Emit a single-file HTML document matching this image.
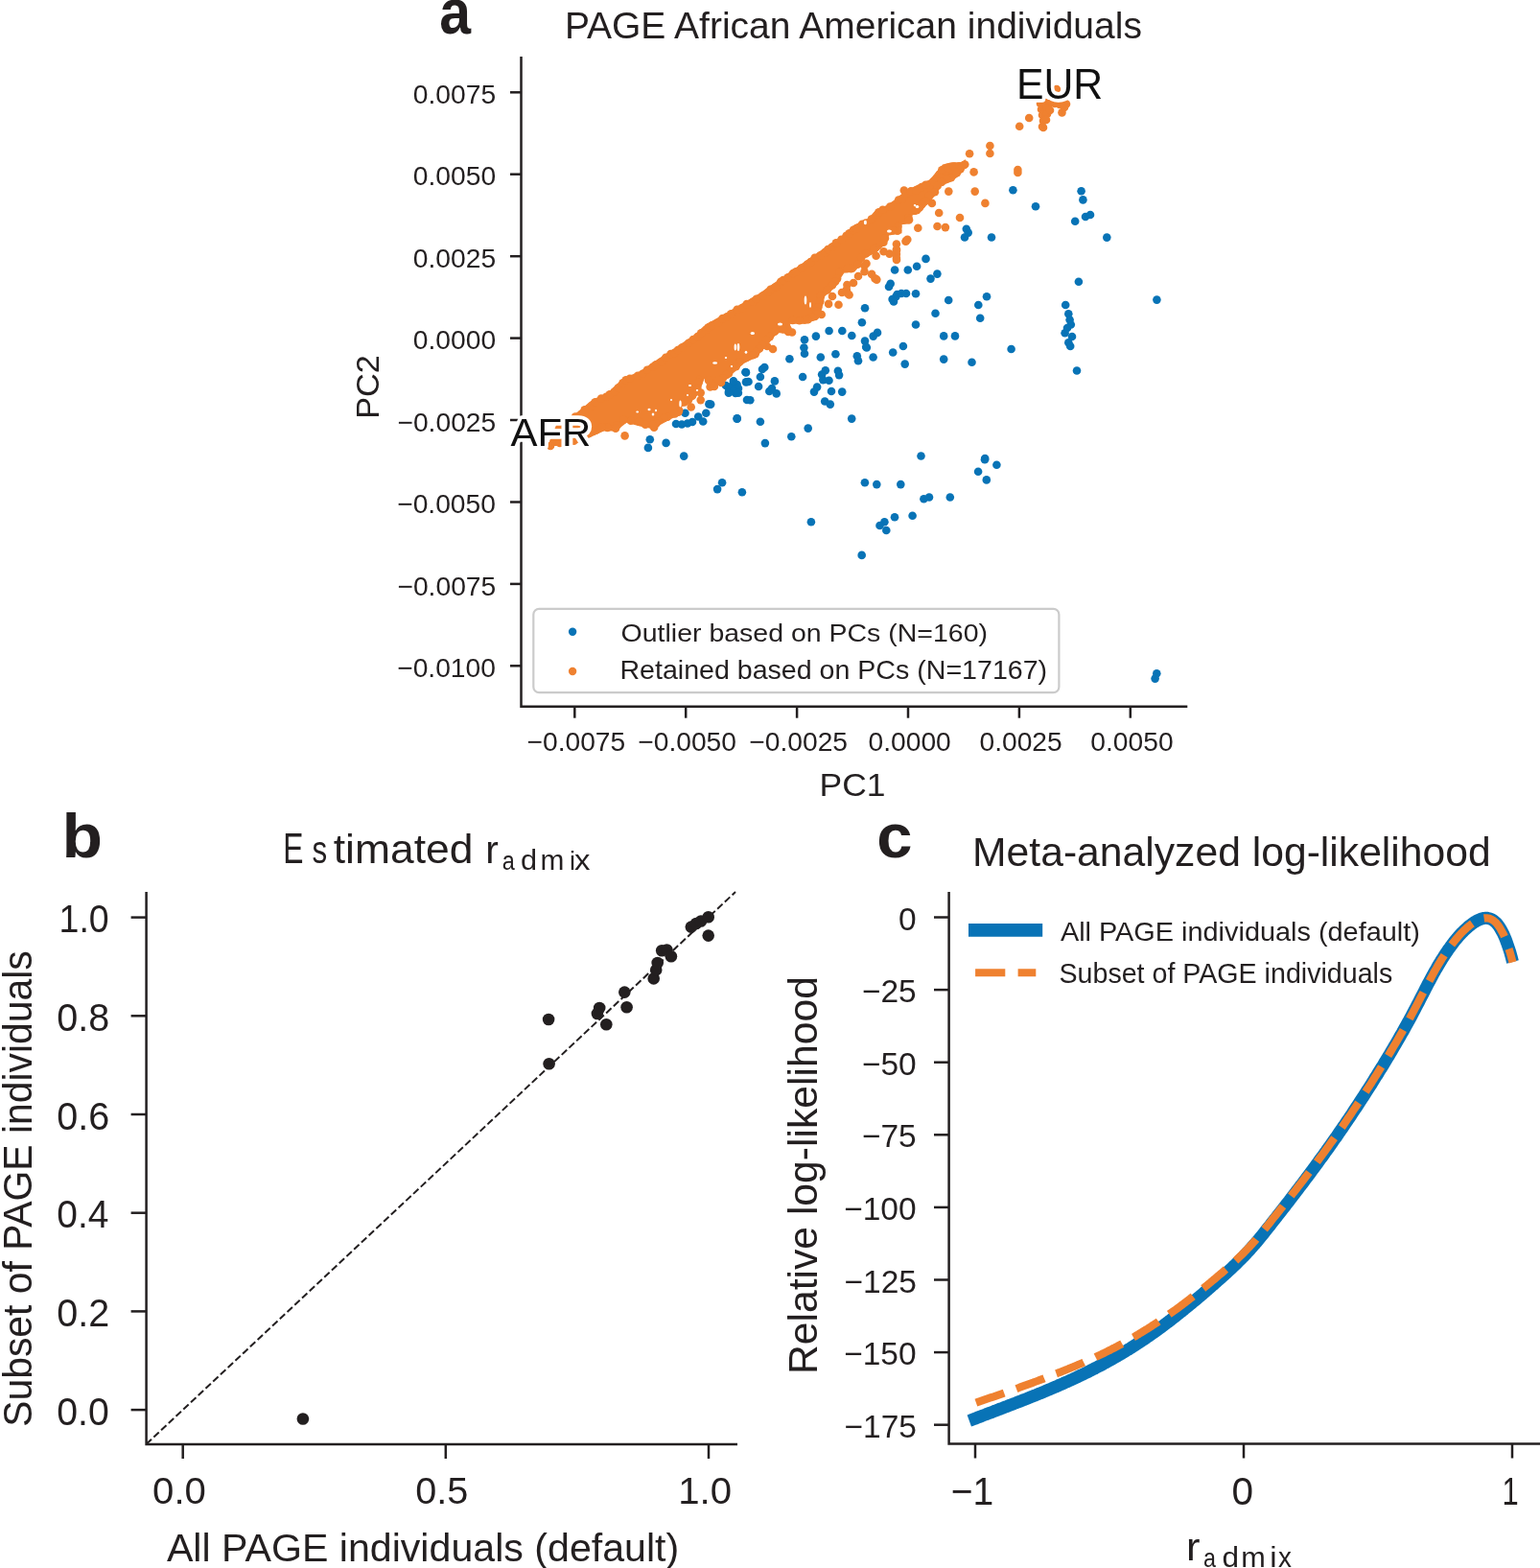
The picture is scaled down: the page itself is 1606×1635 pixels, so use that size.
<!DOCTYPE html>
<html><head><meta charset="utf-8"><title>PAGE African American individuals</title>
<style>html,body{margin:0;padding:0;background:#fff;}svg{display:block;}</style></head>
<body><svg width="1606" height="1635" viewBox="0 0 1606 1635">
<rect width="1606" height="1635" fill="#fff"/>
<g stroke="#231f20" stroke-width="2.5" fill="none">
<path d="M543.5 59V738M542.3 736.8H1238.3"/>
<path d="M532 96.3H543.5"/>
<path d="M532 181.7H543.5"/>
<path d="M532 267.2H543.5"/>
<path d="M532 352.6H543.5"/>
<path d="M532 438.0H543.5"/>
<path d="M532 523.5H543.5"/>
<path d="M532 608.9H543.5"/>
<path d="M532 694.3H543.5"/>
<path d="M599.3 736.8V748.7"/>
<path d="M715.2 736.8V748.7"/>
<path d="M831.1 736.8V748.7"/>
<path d="M947.0 736.8V748.7"/>
<path d="M1062.9 736.8V748.7"/>
<path d="M1178.8 736.8V748.7"/>
</g>
<g fill="#0873b6"><circle cx="705" cy="442" r="4.3"/><circle cx="711" cy="442.5" r="4.3"/><circle cx="717" cy="441.5" r="4.3"/><circle cx="722" cy="440" r="4.3"/><circle cx="714.5" cy="430.8" r="4.3"/><circle cx="728.2" cy="434.5" r="4.3"/><circle cx="733.2" cy="439.5" r="4.3"/><circle cx="736.3" cy="430.8" r="4.3"/><circle cx="739.4" cy="421.4" r="4.3"/><circle cx="768.7" cy="436.4" r="4.3"/><circle cx="677.8" cy="458.2" r="4.3"/><circle cx="675.9" cy="466.9" r="4.3"/><circle cx="694.6" cy="461.9" r="4.3"/><circle cx="713.2" cy="475.6" r="4.3"/><circle cx="757" cy="402" r="4.3"/><circle cx="765" cy="400" r="4.3"/><circle cx="770" cy="405" r="4.3"/><circle cx="760" cy="408" r="4.3"/><circle cx="767" cy="410" r="4.3"/><circle cx="778" cy="388.4" r="4.3"/><circle cx="778" cy="398.4" r="4.3"/><circle cx="779" cy="417" r="4.3"/><circle cx="838.4" cy="362.5" r="4.3"/><circle cx="839" cy="368.7" r="4.3"/><circle cx="823.4" cy="374.3" r="4.3"/><circle cx="855.8" cy="372.5" r="4.3"/><circle cx="871.4" cy="369.3" r="4.3"/><circle cx="893.8" cy="371.2" r="4.3"/><circle cx="895" cy="376.2" r="4.3"/><circle cx="903.8" cy="362.5" r="4.3"/><circle cx="910.6" cy="372.5" r="4.3"/><circle cx="931.2" cy="367.5" r="4.3"/><circle cx="797.3" cy="383" r="4.3"/><circle cx="795" cy="385" r="4.3"/><circle cx="777.4" cy="388" r="4.3"/><circle cx="792.9" cy="393" r="4.3"/><circle cx="780.5" cy="398" r="4.3"/><circle cx="791.1" cy="403" r="4.3"/><circle cx="807.9" cy="397.4" r="4.3"/><circle cx="802.3" cy="408" r="4.3"/><circle cx="809.7" cy="410.4" r="4.3"/><circle cx="805" cy="405" r="4.3"/><circle cx="759.9" cy="403.6" r="4.3"/><circle cx="768.6" cy="401.1" r="4.3"/><circle cx="764.9" cy="407.3" r="4.3"/><circle cx="759.9" cy="409.8" r="4.3"/><circle cx="769.9" cy="409.8" r="4.3"/><circle cx="764.9" cy="397.4" r="4.3"/><circle cx="782.3" cy="417.3" r="4.3"/><circle cx="741.2" cy="421.6" r="4.3"/><circle cx="837.1" cy="393" r="4.3"/><circle cx="860.8" cy="386.2" r="4.3"/><circle cx="857.1" cy="390.5" r="4.3"/><circle cx="858.3" cy="396.1" r="4.3"/><circle cx="864.5" cy="396.7" r="4.3"/><circle cx="873.9" cy="386.8" r="4.3"/><circle cx="875.1" cy="391.1" r="4.3"/><circle cx="852.1" cy="403.6" r="4.3"/><circle cx="849" cy="408.6" r="4.3"/><circle cx="867" cy="408" r="4.3"/><circle cx="878.2" cy="408.6" r="4.3"/><circle cx="860.2" cy="418.5" r="4.3"/><circle cx="865.8" cy="421.6" r="4.3"/><circle cx="768.6" cy="436.6" r="4.3"/><circle cx="792.9" cy="439.7" r="4.3"/><circle cx="888.2" cy="436.6" r="4.3"/><circle cx="842.7" cy="446.6" r="4.3"/><circle cx="825.3" cy="455.3" r="4.3"/><circle cx="797.9" cy="462.1" r="4.3"/><circle cx="753.1" cy="503.2" r="4.3"/><circle cx="748.1" cy="510.1" r="4.3"/><circle cx="773.9" cy="513.2" r="4.3"/><circle cx="901.9" cy="503.2" r="4.3"/><circle cx="914.3" cy="505.1" r="4.3"/><circle cx="939.3" cy="505.1" r="4.3"/><circle cx="845.9" cy="544.3" r="4.3"/><circle cx="933" cy="539.3" r="4.3"/><circle cx="922.4" cy="544.3" r="4.3"/><circle cx="917.5" cy="548" r="4.3"/><circle cx="924.3" cy="553" r="4.3"/><circle cx="933.1" cy="281.5" r="4.3"/><circle cx="946.8" cy="281.5" r="4.3"/><circle cx="956.1" cy="277.8" r="4.3"/><circle cx="928.7" cy="295.8" r="4.3"/><circle cx="927" cy="299" r="4.3"/><circle cx="934.3" cy="309.5" r="4.3"/><circle cx="930.6" cy="312" r="4.3"/><circle cx="935.6" cy="307" r="4.3"/><circle cx="932" cy="314.5" r="4.3"/><circle cx="902" cy="321.3" r="4.3"/><circle cx="898.9" cy="336.3" r="4.3"/><circle cx="864.6" cy="345" r="4.3"/><circle cx="878.3" cy="345" r="4.3"/><circle cx="888.3" cy="350" r="4.3"/><circle cx="850.9" cy="350.6" r="4.3"/><circle cx="839" cy="354.3" r="4.3"/><circle cx="915" cy="346.9" r="4.3"/><circle cx="910.7" cy="350.6" r="4.3"/><circle cx="902" cy="355.6" r="4.3"/><circle cx="903.2" cy="361.8" r="4.3"/><circle cx="977.4" cy="285.6" r="4.3"/><circle cx="970.5" cy="290.6" r="4.3"/><circle cx="940" cy="306" r="4.3"/><circle cx="945" cy="306" r="4.3"/><circle cx="955" cy="306.2" r="4.3"/><circle cx="989.2" cy="313" r="4.3"/><circle cx="1029" cy="309.3" r="4.3"/><circle cx="1020.3" cy="318" r="4.3"/><circle cx="975.5" cy="326.7" r="4.3"/><circle cx="1022.2" cy="331.7" r="4.3"/><circle cx="955" cy="338.5" r="4.3"/><circle cx="984.2" cy="350.4" r="4.3"/><circle cx="996" cy="350.4" r="4.3"/><circle cx="941.9" cy="361" r="4.3"/><circle cx="1054.6" cy="364" r="4.3"/><circle cx="984.2" cy="374.6" r="4.3"/><circle cx="1013.5" cy="377.8" r="4.3"/><circle cx="943.7" cy="379.6" r="4.3"/><circle cx="1124.9" cy="293.7" r="4.3"/><circle cx="1111.2" cy="318" r="4.3"/><circle cx="1114.3" cy="327.3" r="4.3"/><circle cx="1115.6" cy="333.5" r="4.3"/><circle cx="1116.8" cy="338.5" r="4.3"/><circle cx="1110.6" cy="347.2" r="4.3"/><circle cx="1118" cy="351" r="4.3"/><circle cx="1114.3" cy="357.2" r="4.3"/><circle cx="1116.2" cy="361" r="4.3"/><circle cx="1113" cy="342" r="4.3"/><circle cx="1123" cy="386.5" r="4.3"/><circle cx="960.5" cy="475.5" r="4.3"/><circle cx="1027.2" cy="478" r="4.3"/><circle cx="1056.4" cy="198.3" r="4.3"/><circle cx="1080" cy="215.2" r="4.3"/><circle cx="1121.2" cy="230.7" r="4.3"/><circle cx="1127.6" cy="199.3" r="4.3"/><circle cx="1129.4" cy="208.4" r="4.3"/><circle cx="1132" cy="226" r="4.3"/><circle cx="1137" cy="224" r="4.3"/><circle cx="1154.3" cy="247.6" r="4.3"/><circle cx="1007.8" cy="238.8" r="4.3"/><circle cx="1009.7" cy="242.6" r="4.3"/><circle cx="1006" cy="247.5" r="4.3"/><circle cx="1034" cy="247.5" r="4.3"/><circle cx="965.5" cy="269.9" r="4.3"/><circle cx="963.4" cy="520.3" r="4.3"/><circle cx="969" cy="518.5" r="4.3"/><circle cx="990.8" cy="518.5" r="4.3"/><circle cx="1027" cy="479.2" r="4.3"/><circle cx="1039.4" cy="484.8" r="4.3"/><circle cx="1020.1" cy="491.7" r="4.3"/><circle cx="1028.8" cy="500.4" r="4.3"/><circle cx="951.6" cy="537.8" r="4.3"/><circle cx="898.7" cy="578.9" r="4.3"/><circle cx="1206.4" cy="312.6" r="4.3"/><circle cx="1206.3" cy="702.3" r="4.3"/><circle cx="1204.6" cy="707.6" r="4.3"/></g><path d="M574 452 L580 445 L590 438 L602.4 429.5 L617.4 417.1 L633.5 409.6 L649.7 394.6 L667.2 387.2 L685.9 374.5 L704.5 362.3 L723.2 349.8 L735.7 338.6 L754.3 328 L766.8 320.5 L791.8 305.9 L823.6 283.6 L855.4 261.4 L880 244.4 L891.2 234.3 L905.8 227.6 L913.6 218.6 L924.8 214.1 L932.7 208.5 L942.8 200 L956.2 192.9 L969.7 187.2 L975.3 180.5 L983.1 171.6 L992.1 169.3 L1003.3 169.3 L1006.7 166 L1007.8 172.7 L1001 182.8 L992.1 189.5 L980.9 194 L977.5 201.8 L969.7 209.7 L958.5 223.1 L951.7 224.2 L949.5 233.2 L940.5 234.3 L940.5 243.3 L927.1 245.5 L923.7 254.5 L913.6 263.5 L902.4 269.1 L896.8 276.9 L891.2 283.6 L880 284.8 L871.3 299.5 L860.2 309 L855.4 329.7 L839.5 337.7 L823.6 337.7 L823.6 347.2 L810.9 347.2 L799.8 360 L788.6 372.7 L775.9 379 L760 393.4 L751.9 399.6 L741.9 405.8 L734.4 395 L729.4 409.6 L720.7 419.6 L710.8 424.5 L710.8 432 L699.6 437 L685.9 444.5 L679.6 447 L667.2 444.5 L653.5 440.7 L642.3 449.4 L629.8 449.4 L616.1 455.7 L605 461 L590 465 L578 465Z" fill="#ef8130"/><g fill="#ef8130"><circle cx="945.0" cy="251.1" r="4.3"/><circle cx="934.9" cy="254.5" r="4.3"/><circle cx="934.9" cy="260.0" r="4.3"/><circle cx="934.9" cy="265.0" r="4.3"/><circle cx="934.9" cy="269.1" r="4.3"/><circle cx="921.5" cy="262.3" r="4.3"/><circle cx="913.6" cy="266.8" r="4.3"/><circle cx="903.5" cy="274.7" r="4.3"/><circle cx="912.5" cy="290.4" r="4.3"/><circle cx="909.1" cy="285.9" r="4.3"/><circle cx="883.4" cy="297.1" r="4.3"/><circle cx="979.2" cy="222.0" r="4.3"/><circle cx="1001.0" cy="227.0" r="4.3"/><circle cx="977.5" cy="236.0" r="4.3"/><circle cx="985.9" cy="237.1" r="4.3"/><circle cx="989.3" cy="199.6" r="4.3"/><circle cx="1015.6" cy="179.4" r="4.3"/><circle cx="1016.7" cy="199.6" r="4.3"/><circle cx="1027.4" cy="211.9" r="4.3"/><circle cx="1032.4" cy="152.0" r="4.3"/><circle cx="1032.4" cy="160.0" r="4.3"/><circle cx="1011.1" cy="160.3" r="4.3"/><circle cx="942.8" cy="198.5" r="4.3"/><circle cx="957.3" cy="237.7" r="4.3"/><circle cx="971.9" cy="211.9" r="4.3"/><circle cx="874.5" cy="317.8" r="4.3"/><circle cx="885.6" cy="307.5" r="4.3"/><circle cx="914.3" cy="291.6" r="4.3"/><circle cx="935.0" cy="270.9" r="4.3"/><circle cx="944.5" cy="251.8" r="4.3"/><circle cx="800.0" cy="361.0" r="4.3"/><circle cx="806.0" cy="364.0" r="4.3"/><circle cx="822.0" cy="346.0" r="4.3"/><circle cx="826.0" cy="346.5" r="4.3"/><circle cx="651.6" cy="454.4" r="4.3"/><circle cx="740.6" cy="403.4" r="4.3"/><circle cx="750.6" cy="397.1" r="4.3"/><circle cx="730.7" cy="409.6" r="4.3"/><circle cx="730.7" cy="417.1" r="4.3"/><circle cx="720.7" cy="424.5" r="4.3"/><circle cx="682.1" cy="445.7" r="4.3"/><circle cx="577.3" cy="460.5" r="4.3"/><circle cx="574.0" cy="465.0" r="4.3"/><circle cx="882.8" cy="302.0" r="4.3"/><circle cx="884.0" cy="306.0" r="4.3"/><circle cx="901.5" cy="283.3" r="4.3"/><circle cx="901.5" cy="277.0" r="4.3"/><circle cx="927.6" cy="264.6" r="4.3"/><circle cx="935.0" cy="260.9" r="4.3"/><circle cx="946.3" cy="249.7" r="4.3"/><circle cx="864.1" cy="316.9" r="4.3"/><circle cx="849.2" cy="320.6" r="4.3"/><circle cx="856.7" cy="328.0" r="4.3"/><circle cx="819.3" cy="343.0" r="4.3"/><circle cx="787.6" cy="369.2" r="4.3"/><circle cx="752.0" cy="399.0" r="4.3"/><circle cx="868.0" cy="309.0" r="4.3"/><circle cx="890.0" cy="295.0" r="4.3"/><circle cx="895.0" cy="288.0" r="4.3"/><circle cx="878.0" cy="305.0" r="4.3"/><circle cx="850.0" cy="330.0" r="4.3"/><circle cx="843.0" cy="333.0" r="4.3"/><circle cx="1061.4" cy="177.0" r="4.3"/><circle cx="1061.4" cy="180.0" r="4.3"/><circle cx="1063.2" cy="131.7" r="4.3"/><circle cx="1073.2" cy="123.0" r="4.3"/><circle cx="1085.0" cy="108.0" r="4.3"/><circle cx="1090.0" cy="107.0" r="4.3"/><circle cx="1095.0" cy="108.0" r="4.3"/><circle cx="1100.0" cy="108.0" r="4.3"/><circle cx="1105.0" cy="109.0" r="4.3"/><circle cx="1110.0" cy="109.0" r="4.3"/><circle cx="1112.0" cy="108.5" r="4.3"/><circle cx="1086.0" cy="114.0" r="4.3"/><circle cx="1087.0" cy="120.0" r="4.3"/><circle cx="1088.0" cy="126.0" r="4.3"/><circle cx="1087.0" cy="132.0" r="4.3"/><circle cx="1088.0" cy="133.0" r="4.3"/><circle cx="1092.0" cy="113.0" r="4.3"/><circle cx="1092.0" cy="119.0" r="4.3"/><circle cx="1091.0" cy="125.0" r="4.3"/><circle cx="1095.0" cy="115.0" r="4.3"/><circle cx="1107.5" cy="117.4" r="4.3"/><circle cx="1110.0" cy="112.0" r="4.3"/><circle cx="1101.9" cy="93.0" r="4.3"/><circle cx="577.4" cy="452.5" r="4.3"/><circle cx="583.5" cy="445.9" r="4.3"/><circle cx="588.5" cy="443.1" r="4.3"/><circle cx="592.2" cy="440.9" r="4.3"/><circle cx="596.2" cy="438.0" r="4.3"/><circle cx="600.0" cy="434.5" r="4.3"/><circle cx="606.4" cy="431.7" r="4.3"/><circle cx="609.7" cy="427.4" r="4.3"/><circle cx="617.1" cy="423.1" r="4.3"/><circle cx="620.7" cy="419.3" r="4.3"/><circle cx="627.0" cy="415.6" r="4.3"/><circle cx="632.2" cy="413.7" r="4.3"/><circle cx="635.8" cy="411.4" r="4.3"/><circle cx="641.2" cy="408.3" r="4.3"/><circle cx="644.6" cy="404.5" r="4.3"/><circle cx="649.5" cy="399.4" r="4.3"/><circle cx="652.7" cy="396.3" r="4.3"/><circle cx="656.9" cy="394.8" r="4.3"/><circle cx="665.1" cy="391.8" r="4.3"/><circle cx="670.2" cy="389.7" r="4.3"/><circle cx="674.9" cy="385.8" r="4.3"/><circle cx="681.0" cy="382.6" r="4.3"/><circle cx="684.0" cy="380.3" r="4.3"/><circle cx="689.8" cy="377.2" r="4.3"/><circle cx="694.3" cy="372.8" r="4.3"/><circle cx="699.5" cy="369.0" r="4.3"/><circle cx="703.3" cy="368.0" r="4.3"/><circle cx="706.9" cy="365.0" r="4.3"/><circle cx="711.5" cy="362.4" r="4.3"/><circle cx="718.1" cy="357.7" r="4.3"/><circle cx="722.8" cy="354.0" r="4.3"/><circle cx="727.5" cy="351.1" r="4.3"/><circle cx="731.2" cy="347.4" r="4.3"/><circle cx="736.6" cy="343.8" r="4.3"/><circle cx="739.0" cy="341.3" r="4.3"/><circle cx="742.5" cy="339.3" r="4.3"/><circle cx="749.1" cy="336.3" r="4.3"/><circle cx="753.5" cy="332.1" r="4.3"/><circle cx="757.8" cy="330.5" r="4.3"/><circle cx="762.4" cy="327.2" r="4.3"/><circle cx="768.7" cy="322.7" r="4.3"/><circle cx="774.1" cy="321.0" r="4.3"/><circle cx="778.7" cy="317.1" r="4.3"/><circle cx="785.2" cy="314.8" r="4.3"/><circle cx="788.8" cy="311.7" r="4.3"/><circle cx="795.8" cy="308.4" r="4.3"/><circle cx="801.1" cy="304.7" r="4.3"/><circle cx="803.6" cy="301.8" r="4.3"/><circle cx="808.9" cy="299.2" r="4.3"/><circle cx="814.2" cy="293.7" r="4.3"/><circle cx="816.8" cy="292.1" r="4.3"/><circle cx="821.7" cy="289.3" r="4.3"/><circle cx="827.0" cy="285.0" r="4.3"/><circle cx="830.1" cy="283.2" r="4.3"/><circle cx="835.8" cy="279.6" r="4.3"/><circle cx="842.1" cy="275.5" r="4.3"/><circle cx="845.4" cy="273.1" r="4.3"/><circle cx="849.7" cy="268.7" r="4.3"/><circle cx="855.7" cy="266.3" r="4.3"/><circle cx="860.4" cy="263.1" r="4.3"/><circle cx="863.4" cy="260.0" r="4.3"/><circle cx="867.7" cy="257.6" r="4.3"/><circle cx="871.9" cy="253.3" r="4.3"/><circle cx="877.4" cy="249.8" r="4.3"/><circle cx="882.6" cy="245.7" r="4.3"/><circle cx="885.7" cy="243.2" r="4.3"/><circle cx="889.9" cy="239.9" r="4.3"/><circle cx="893.1" cy="238.2" r="4.3"/><circle cx="899.1" cy="233.9" r="4.3"/><circle cx="903.0" cy="232.5" r="4.3"/><circle cx="908.8" cy="228.5" r="4.3"/><circle cx="915.2" cy="223.8" r="4.3"/><circle cx="916.5" cy="221.3" r="4.3"/><circle cx="920.5" cy="218.8" r="4.3"/><circle cx="928.2" cy="215.5" r="4.3"/><circle cx="937.1" cy="208.6" r="4.3"/><circle cx="940.7" cy="207.6" r="4.3"/><circle cx="945.6" cy="201.8" r="4.3"/><circle cx="950.0" cy="199.2" r="4.3"/><circle cx="955.3" cy="198.5" r="4.3"/><circle cx="961.2" cy="195.1" r="4.3"/><circle cx="965.3" cy="192.7" r="4.3"/><circle cx="973.4" cy="189.2" r="4.3"/><circle cx="979.7" cy="181.8" r="4.3"/><circle cx="982.3" cy="177.2" r="4.3"/><circle cx="988.6" cy="174.9" r="4.3"/><circle cx="995.0" cy="173.5" r="4.3"/><circle cx="1000.4" cy="173.4" r="4.3"/><circle cx="1006.3" cy="171.5" r="4.3"/><circle cx="1004.9" cy="172.3" r="4.3"/><circle cx="1001.7" cy="176.1" r="4.3"/><circle cx="997.9" cy="180.1" r="4.3"/><circle cx="991.9" cy="185.3" r="4.3"/><circle cx="987.2" cy="186.5" r="4.3"/><circle cx="982.0" cy="190.0" r="4.3"/><circle cx="977.7" cy="193.8" r="4.3"/><circle cx="974.9" cy="200.2" r="4.3"/><circle cx="969.0" cy="204.1" r="4.3"/><circle cx="965.1" cy="209.7" r="4.3"/><circle cx="961.3" cy="213.2" r="4.3"/><circle cx="959.0" cy="216.3" r="4.3"/><circle cx="954.1" cy="219.6" r="4.3"/><circle cx="947.3" cy="227.4" r="4.3"/><circle cx="948.0" cy="229.2" r="4.3"/><circle cx="936.3" cy="236.1" r="4.3"/><circle cx="936.0" cy="240.6" r="4.3"/><circle cx="931.5" cy="240.2" r="4.3"/><circle cx="922.9" cy="248.4" r="4.3"/><circle cx="921.4" cy="252.7" r="4.3"/><circle cx="913.1" cy="258.3" r="4.3"/><circle cx="911.2" cy="259.9" r="4.3"/><circle cx="903.0" cy="264.4" r="4.3"/><circle cx="898.2" cy="268.6" r="4.3"/><circle cx="894.3" cy="275.7" r="4.3"/><circle cx="887.5" cy="280.1" r="4.3"/><circle cx="883.4" cy="279.9" r="4.3"/><circle cx="875.5" cy="283.9" r="4.3"/><circle cx="873.1" cy="290.6" r="4.3"/><circle cx="871.0" cy="293.7" r="4.3"/><circle cx="868.0" cy="297.3" r="4.3"/><circle cx="862.7" cy="302.4" r="4.3"/><circle cx="855.8" cy="308.4" r="4.3"/><circle cx="855.3" cy="314.5" r="4.3"/><circle cx="853.1" cy="320.2" r="4.3"/><circle cx="852.0" cy="324.8" r="4.3"/><circle cx="852.2" cy="327.2" r="4.3"/><circle cx="847.2" cy="330.8" r="4.3"/><circle cx="842.1" cy="333.1" r="4.3"/><circle cx="839.5" cy="333.5" r="4.3"/><circle cx="833.7" cy="334.2" r="4.3"/><circle cx="826.6" cy="334.0" r="4.3"/><circle cx="820.0" cy="339.6" r="4.3"/><circle cx="821.5" cy="343.0" r="4.3"/><circle cx="816.8" cy="343.5" r="4.3"/><circle cx="808.0" cy="345.8" r="4.3"/><circle cx="802.8" cy="351.1" r="4.3"/><circle cx="799.1" cy="354.5" r="4.3"/><circle cx="795.1" cy="360.0" r="4.3"/><circle cx="792.0" cy="363.4" r="4.3"/><circle cx="788.2" cy="367.1" r="4.3"/><circle cx="785.2" cy="370.3" r="4.3"/><circle cx="778.4" cy="372.7" r="4.3"/><circle cx="771.3" cy="377.3" r="4.3"/><circle cx="767.6" cy="382.3" r="4.3"/><circle cx="763.6" cy="384.1" r="4.3"/><circle cx="760.0" cy="389.5" r="4.3"/><circle cx="757.6" cy="390.9" r="4.3"/><circle cx="753.9" cy="394.2" r="4.3"/><circle cx="749.6" cy="396.4" r="4.3"/><circle cx="742.2" cy="400.4" r="4.3"/><circle cx="744.9" cy="403.0" r="4.3"/><circle cx="739.0" cy="396.6" r="4.3"/><circle cx="729.2" cy="396.1" r="4.3"/><circle cx="728.3" cy="399.0" r="4.3"/><circle cx="727.3" cy="404.7" r="4.3"/><circle cx="723.6" cy="409.8" r="4.3"/><circle cx="722.0" cy="412.8" r="4.3"/><circle cx="717.7" cy="417.4" r="4.3"/><circle cx="713.7" cy="419.4" r="4.3"/><circle cx="708.2" cy="427.7" r="4.3"/><circle cx="707.5" cy="429.7" r="4.3"/><circle cx="703.8" cy="431.5" r="4.3"/><circle cx="696.1" cy="434.8" r="4.3"/><circle cx="692.7" cy="435.6" r="4.3"/><circle cx="686.1" cy="439.2" r="4.3"/><circle cx="684.3" cy="441.7" r="4.3"/><circle cx="680.3" cy="442.9" r="4.3"/><circle cx="673.0" cy="442.7" r="4.3"/><circle cx="666.6" cy="439.8" r="4.3"/><circle cx="657.8" cy="438.7" r="4.3"/><circle cx="650.3" cy="437.6" r="4.3"/><circle cx="643.5" cy="443.4" r="4.3"/><circle cx="642.0" cy="446.7" r="4.3"/><circle cx="633.5" cy="445.9" r="4.3"/><circle cx="627.7" cy="445.4" r="4.3"/><circle cx="621.7" cy="448.5" r="4.3"/><circle cx="618.6" cy="449.8" r="4.3"/><circle cx="614.0" cy="451.9" r="4.3"/><circle cx="607.6" cy="456.1" r="4.3"/><circle cx="602.2" cy="457.1" r="4.3"/><circle cx="598.5" cy="459.8" r="4.3"/><circle cx="592.6" cy="461.1" r="4.3"/><circle cx="589.6" cy="462.1" r="4.3"/><circle cx="583.8" cy="462.0" r="4.3"/></g><g fill="#fff"><ellipse cx="745.6" cy="378.5" rx="2.5" ry="1.3"/><ellipse cx="766.8" cy="362" rx="1.2" ry="3.5"/><ellipse cx="778" cy="367.2" rx="1.3" ry="1.5"/><ellipse cx="677" cy="427" rx="1.5" ry="1.2"/><ellipse cx="681" cy="432" rx="1.3" ry="1.5"/><ellipse cx="684" cy="428" rx="1.0" ry="1.2"/><ellipse cx="719.5" cy="402.1" rx="1.6" ry="1.0"/><ellipse cx="709.5" cy="421" rx="1.2" ry="3.5"/><ellipse cx="664.7" cy="429.5" rx="1.4" ry="0.9"/><ellipse cx="717" cy="412" rx="1.0" ry="1.0"/><ellipse cx="727" cy="407" rx="1.2" ry="1.0"/><ellipse cx="784.8" cy="347.5" rx="2.2" ry="1.6"/><ellipse cx="770" cy="362" rx="1.3" ry="4"/><ellipse cx="840" cy="313" rx="1.3" ry="4.5"/><ellipse cx="845" cy="318" rx="1.0" ry="3"/><ellipse cx="928" cy="241" rx="1.8" ry="1.2"/><ellipse cx="956.5" cy="215.5" rx="1.8" ry="1.5"/><ellipse cx="813.5" cy="338" rx="2.6" ry="1.5"/><ellipse cx="902.4" cy="232" rx="1.5" ry="2.2"/><ellipse cx="954" cy="214.1" rx="1.2" ry="1.2"/><ellipse cx="927" cy="241" rx="2.0" ry="1.6"/><ellipse cx="700" cy="417" rx="1.0" ry="0.9"/><ellipse cx="757" cy="373" rx="1.2" ry="1.0"/><ellipse cx="763" cy="382" rx="1.1" ry="1.1"/></g>
<rect x="556.3" y="634.8" width="548.1" height="87.4" rx="6" fill="#fff" stroke="#cbcbcb" stroke-width="2.2"/>
<circle cx="597.1" cy="658.8" r="4.2" fill="#0873b6"/><circle cx="597.1" cy="700" r="4.2" fill="#ef8130"/>
<g stroke="#231f20" stroke-width="2.5" fill="none">
<path d="M152.6 930V1507.2M151.4 1506H769"/>
<path d="M136.6 956.6H152.6"/>
<path d="M136.6 1059.3H152.6"/>
<path d="M136.6 1162.0H152.6"/>
<path d="M136.6 1264.7H152.6"/>
<path d="M136.6 1367.4H152.6"/>
<path d="M136.6 1470.1H152.6"/>
<path d="M190.7 1506V1521"/>
<path d="M464.8 1506V1521"/>
<path d="M739.0 1506V1521"/>
</g>
<path d="M152.6 1505.8L767 930" stroke="#231f20" stroke-width="2" stroke-dasharray="7.4 3.2" fill="none"/>
<g fill="#231f20"><circle cx="572.1" cy="1063" r="6.3"/><circle cx="572.6" cy="1109.3" r="6.3"/><circle cx="625.2" cy="1051" r="6.3"/><circle cx="622.9" cy="1057" r="6.3"/><circle cx="632.3" cy="1068.2" r="6.3"/><circle cx="651.3" cy="1034.6" r="6.3"/><circle cx="653.6" cy="1050.3" r="6.3"/><circle cx="681.7" cy="1020.4" r="6.3"/><circle cx="684.2" cy="1011.4" r="6.3"/><circle cx="685.7" cy="1004" r="6.3"/><circle cx="690.2" cy="991.3" r="6.3"/><circle cx="695.4" cy="990.5" r="6.3"/><circle cx="699.9" cy="997.2" r="6.3"/><circle cx="720.8" cy="966.6" r="6.3"/><circle cx="726" cy="963" r="6.3"/><circle cx="731" cy="960.5" r="6.3"/><circle cx="738.7" cy="956.2" r="6.3"/><circle cx="738.7" cy="975.6" r="6.3"/><circle cx="315.9" cy="1479.5" r="6.3"/></g>
<g stroke="#231f20" stroke-width="2.5" fill="none">
<path d="M989.6 930V1506.8M988.4 1505.6H1606"/>
<path d="M974 956.5H989.6"/>
<path d="M974 1032.1H989.6"/>
<path d="M974 1107.7H989.6"/>
<path d="M974 1183.3H989.6"/>
<path d="M974 1258.9H989.6"/>
<path d="M974 1334.5H989.6"/>
<path d="M974 1410.1H989.6"/>
<path d="M974 1485.7H989.6"/>
<path d="M1017.0 1505.6V1520.5"/>
<path d="M1297.0 1505.6V1520.5"/>
<path d="M1577.0 1505.6V1520.5"/>
</g>
<path d="M1010.8 1481.5 L1012.2 1481.0 L1013.6 1480.4 L1015.1 1479.9 L1016.5 1479.3 L1017.9 1478.8 L1019.3 1478.2 L1020.7 1477.7 L1022.2 1477.1 L1023.6 1476.6 L1025.0 1476.0 L1026.4 1475.5 L1027.8 1475.0 L1029.3 1474.4 L1030.7 1473.9 L1032.1 1473.3 L1033.5 1472.8 L1034.9 1472.3 L1036.4 1471.7 L1037.8 1471.2 L1039.2 1470.6 L1040.6 1470.1 L1042.0 1469.5 L1043.5 1469.0 L1044.9 1468.5 L1046.3 1467.9 L1047.7 1467.4 L1049.1 1466.8 L1050.6 1466.3 L1052.0 1465.7 L1053.4 1465.2 L1054.8 1464.6 L1056.2 1464.1 L1057.7 1463.5 L1059.1 1463.0 L1060.5 1462.4 L1061.9 1461.9 L1063.4 1461.3 L1064.8 1460.8 L1066.2 1460.2 L1067.6 1459.7 L1069.0 1459.1 L1070.5 1458.6 L1071.9 1458.0 L1073.3 1457.4 L1074.7 1456.9 L1076.1 1456.3 L1077.6 1455.7 L1079.0 1455.2 L1080.4 1454.6 L1081.8 1454.0 L1083.2 1453.4 L1084.7 1452.8 L1086.1 1452.3 L1087.5 1451.7 L1088.9 1451.1 L1090.3 1450.5 L1091.8 1449.9 L1093.2 1449.3 L1094.6 1448.7 L1096.0 1448.1 L1097.4 1447.5 L1098.9 1446.9 L1100.3 1446.3 L1101.7 1445.7 L1103.1 1445.1 L1104.5 1444.4 L1106.0 1443.8 L1107.4 1443.2 L1108.8 1442.6 L1110.2 1441.9 L1111.6 1441.3 L1113.1 1440.7 L1114.5 1440.0 L1115.9 1439.4 L1117.3 1438.7 L1118.7 1438.1 L1120.2 1437.4 L1121.6 1436.7 L1123.0 1436.1 L1124.4 1435.4 L1125.8 1434.7 L1127.3 1434.0 L1128.7 1433.4 L1130.1 1432.7 L1131.5 1432.0 L1132.9 1431.3 L1134.4 1430.6 L1135.8 1429.9 L1137.2 1429.1 L1138.6 1428.4 L1140.0 1427.7 L1141.5 1427.0 L1142.9 1426.2 L1144.3 1425.5 L1145.7 1424.8 L1147.1 1424.0 L1148.6 1423.3 L1150.0 1422.5 L1151.4 1421.7 L1152.8 1421.0 L1154.3 1420.2 L1155.7 1419.4 L1157.1 1418.6 L1158.5 1417.8 L1159.9 1417.0 L1161.4 1416.2 L1162.8 1415.4 L1164.2 1414.6 L1165.6 1413.8 L1167.0 1412.9 L1168.5 1412.1 L1169.9 1411.3 L1171.3 1410.4 L1172.7 1409.6 L1174.1 1408.7 L1175.6 1407.8 L1177.0 1407.0 L1178.4 1406.1 L1179.8 1405.2 L1181.2 1404.3 L1182.7 1403.4 L1184.1 1402.5 L1185.5 1401.5 L1186.9 1400.6 L1188.3 1399.7 L1189.8 1398.8 L1191.2 1397.8 L1192.6 1396.9 L1194.0 1395.9 L1195.4 1394.9 L1196.9 1393.9 L1198.3 1393.0 L1199.7 1392.0 L1201.1 1391.0 L1202.5 1390.0 L1204.0 1388.9 L1205.4 1387.9 L1206.8 1386.9 L1208.2 1385.9 L1209.6 1384.8 L1211.1 1383.8 L1212.5 1382.7 L1213.9 1381.7 L1215.3 1380.6 L1216.7 1379.5 L1218.2 1378.4 L1219.6 1377.4 L1221.0 1376.3 L1222.4 1375.2 L1223.8 1374.1 L1225.3 1373.0 L1226.7 1371.8 L1228.1 1370.7 L1229.5 1369.6 L1230.9 1368.5 L1232.4 1367.3 L1233.8 1366.2 L1235.2 1365.0 L1236.6 1363.9 L1238.0 1362.7 L1239.5 1361.6 L1240.9 1360.4 L1242.3 1359.2 L1243.7 1358.0 L1245.1 1356.9 L1246.6 1355.7 L1248.0 1354.5 L1249.4 1353.3 L1250.8 1352.1 L1252.3 1350.9 L1253.7 1349.7 L1255.1 1348.4 L1256.5 1347.2 L1257.9 1346.0 L1259.4 1344.8 L1260.8 1343.5 L1262.2 1342.3 L1263.6 1341.1 L1265.0 1339.8 L1266.5 1338.6 L1267.9 1337.3 L1269.3 1336.1 L1270.7 1334.8 L1272.1 1333.6 L1273.6 1332.3 L1275.0 1331.0 L1276.4 1329.7 L1277.8 1328.4 L1279.2 1327.2 L1280.7 1325.8 L1282.1 1324.5 L1283.5 1323.2 L1284.9 1321.9 L1286.3 1320.5 L1287.8 1319.2 L1289.2 1317.8 L1290.6 1316.4 L1292.0 1315.0 L1293.4 1313.6 L1294.9 1312.1 L1296.3 1310.7 L1297.7 1309.2 L1299.1 1307.7 L1300.5 1306.2 L1302.0 1304.7 L1303.4 1303.1 L1304.8 1301.5 L1306.2 1299.9 L1307.6 1298.3 L1309.1 1296.7 L1310.5 1295.0 L1311.9 1293.3 L1313.3 1291.6 L1314.7 1289.9 L1316.2 1288.1 L1317.6 1286.4 L1319.0 1284.6 L1320.4 1282.8 L1321.8 1281.0 L1323.3 1279.2 L1324.7 1277.4 L1326.1 1275.6 L1327.5 1273.8 L1328.9 1272.0 L1330.4 1270.2 L1331.8 1268.3 L1333.2 1266.5 L1334.6 1264.7 L1336.0 1262.9 L1337.5 1261.0 L1338.9 1259.2 L1340.3 1257.4 L1341.7 1255.6 L1343.2 1253.7 L1344.6 1251.9 L1346.0 1250.0 L1347.4 1248.2 L1348.8 1246.3 L1350.3 1244.5 L1351.7 1242.6 L1353.1 1240.8 L1354.5 1238.9 L1355.9 1237.0 L1357.4 1235.2 L1358.8 1233.3 L1360.2 1231.4 L1361.6 1229.5 L1363.0 1227.6 L1364.5 1225.7 L1365.9 1223.8 L1367.3 1221.9 L1368.7 1220.0 L1370.1 1218.1 L1371.6 1216.1 L1373.0 1214.2 L1374.4 1212.3 L1375.8 1210.3 L1377.2 1208.3 L1378.7 1206.4 L1380.1 1204.4 L1381.5 1202.4 L1382.9 1200.5 L1384.3 1198.5 L1385.8 1196.5 L1387.2 1194.5 L1388.6 1192.5 L1390.0 1190.5 L1391.4 1188.4 L1392.9 1186.4 L1394.3 1184.4 L1395.7 1182.3 L1397.1 1180.3 L1398.5 1178.2 L1400.0 1176.1 L1401.4 1174.1 L1402.8 1172.0 L1404.2 1169.9 L1405.6 1167.8 L1407.1 1165.7 L1408.5 1163.6 L1409.9 1161.5 L1411.3 1159.3 L1412.7 1157.2 L1414.2 1155.0 L1415.6 1152.9 L1417.0 1150.7 L1418.4 1148.5 L1419.8 1146.4 L1421.3 1144.2 L1422.7 1142.0 L1424.1 1139.8 L1425.5 1137.6 L1426.9 1135.3 L1428.4 1133.1 L1429.8 1130.9 L1431.2 1128.6 L1432.6 1126.3 L1434.0 1124.1 L1435.5 1121.8 L1436.9 1119.5 L1438.3 1117.2 L1439.7 1114.9 L1441.2 1112.6 L1442.6 1110.3 L1444.0 1107.9 L1445.4 1105.6 L1446.8 1103.2 L1448.3 1100.9 L1449.7 1098.5 L1451.1 1096.1 L1452.5 1093.7 L1453.9 1091.3 L1455.4 1088.9 L1456.8 1086.4 L1458.2 1084.0 L1459.6 1081.5 L1461.0 1079.0 L1462.5 1076.5 L1463.9 1074.0 L1465.3 1071.4 L1466.7 1068.9 L1468.1 1066.3 L1469.6 1063.7 L1471.0 1061.1 L1472.4 1058.4 L1473.8 1055.7 L1475.2 1053.1 L1476.7 1050.3 L1478.1 1047.6 L1479.5 1044.9 L1480.9 1042.1 L1482.3 1039.3 L1483.8 1036.6 L1485.2 1033.8 L1486.6 1031.1 L1488.0 1028.3 L1489.4 1025.6 L1490.9 1022.9 L1492.3 1020.2 L1493.7 1017.6 L1495.1 1015.0 L1496.5 1012.5 L1498.0 1010.0 L1499.4 1007.5 L1500.8 1005.1 L1502.2 1002.8 L1503.6 1000.5 L1505.1 998.2 L1506.5 996.0 L1507.9 993.9 L1509.3 991.8 L1510.7 989.7 L1512.2 987.8 L1513.6 985.8 L1515.0 983.9 L1516.4 982.1 L1517.8 980.3 L1519.3 978.6 L1520.7 976.9 L1522.1 975.3 L1523.5 973.8 L1524.9 972.3 L1526.4 970.8 L1527.8 969.5 L1529.2 968.2 L1530.6 966.9 L1532.1 965.7 L1533.5 964.6 L1534.9 963.5 L1536.3 962.5 L1537.7 961.5 L1539.2 960.7 L1540.6 959.9 L1542.0 959.2 L1543.4 958.6 L1544.8 958.1 L1546.3 957.7 L1547.7 957.4 L1549.1 957.3 L1550.5 957.3 L1551.9 957.5 L1553.4 957.8 L1554.8 958.3 L1556.2 959.0 L1557.6 959.9 L1559.0 961.1 L1560.5 962.4 L1561.9 964.1 L1563.3 966.0 L1564.7 968.2 L1566.1 970.7 L1567.6 973.5 L1569.0 976.6 L1570.4 980.0 L1571.8 983.9 L1573.2 988.0 L1574.7 992.6 L1576.1 997.6 L1577.5 1003.0" stroke="#0873b6" stroke-width="13" fill="none" stroke-linejoin="round"/><path d="M1017.9 1462.7 L1019.3 1462.2 L1020.7 1461.7 L1022.2 1461.2 L1023.6 1460.7 L1025.0 1460.2 L1026.4 1459.7 L1027.8 1459.2 L1029.3 1458.7 L1030.7 1458.2 L1032.1 1457.7 L1033.5 1457.2 L1034.9 1456.8 L1036.4 1456.3 L1037.8 1455.8 L1039.2 1455.3 L1040.6 1454.8 L1042.0 1454.3 L1043.5 1453.8 L1044.9 1453.3 L1046.3 1452.8 L1047.7 1452.3 L1049.1 1451.8 L1050.6 1451.3 L1052.0 1450.8 L1053.4 1450.3 L1054.8 1449.8 L1056.2 1449.3 L1057.7 1448.8 L1059.1 1448.3 L1060.5 1447.8 L1061.9 1447.3 L1063.4 1446.7 L1064.8 1446.2 L1066.2 1445.7 L1067.6 1445.2 L1069.0 1444.7 L1070.5 1444.2 L1071.9 1443.6 L1073.3 1443.1 L1074.7 1442.6 L1076.1 1442.1 L1077.6 1441.6 L1079.0 1441.0 L1080.4 1440.5 L1081.8 1440.0 L1083.2 1439.4 L1084.7 1438.9 L1086.1 1438.3 L1087.5 1437.8 L1088.9 1437.3 L1090.3 1436.7 L1091.8 1436.2 L1093.2 1435.6 L1094.6 1435.1 L1096.0 1434.5 L1097.4 1433.9 L1098.9 1433.4 L1100.3 1432.8 L1101.7 1432.3 L1103.1 1431.7 L1104.5 1431.2 L1106.0 1430.6 L1107.4 1430.1 L1108.8 1429.5 L1110.2 1428.9 L1111.6 1428.4 L1113.1 1427.8 L1114.5 1427.2 L1115.9 1426.7 L1117.3 1426.1 L1118.7 1425.5 L1120.2 1424.9 L1121.6 1424.3 L1123.0 1423.7 L1124.4 1423.1 L1125.8 1422.5 L1127.3 1421.9 L1128.7 1421.3 L1130.1 1420.7 L1131.5 1420.0 L1132.9 1419.4 L1134.4 1418.8 L1135.8 1418.2 L1137.2 1417.5 L1138.6 1416.9 L1140.0 1416.2 L1141.5 1415.6 L1142.9 1414.9 L1144.3 1414.2 L1145.7 1413.6 L1147.1 1412.9 L1148.6 1412.2 L1150.0 1411.5 L1151.4 1410.8 L1152.8 1410.1 L1154.3 1409.4 L1155.7 1408.7 L1157.1 1408.0 L1158.5 1407.3 L1159.9 1406.5 L1161.4 1405.8 L1162.8 1405.1 L1164.2 1404.3 L1165.6 1403.6 L1167.0 1402.8 L1168.5 1402.0 L1169.9 1401.3 L1171.3 1400.5 L1172.7 1399.7 L1174.1 1398.9 L1175.6 1398.1 L1177.0 1397.3 L1178.4 1396.5 L1179.8 1395.7 L1181.2 1394.8 L1182.7 1394.0 L1184.1 1393.2 L1185.5 1392.3 L1186.9 1391.5 L1188.3 1390.6 L1189.8 1389.7 L1191.2 1388.9 L1192.6 1388.0 L1194.0 1387.1 L1195.4 1386.3 L1196.9 1385.4 L1198.3 1384.5 L1199.7 1383.6 L1201.1 1382.7 L1202.5 1381.7 L1204.0 1380.8 L1205.4 1379.9 L1206.8 1379.0 L1208.2 1378.0 L1209.6 1377.1 L1211.1 1376.1 L1212.5 1375.1 L1213.9 1374.2 L1215.3 1373.2 L1216.7 1372.2 L1218.2 1371.2 L1219.6 1370.2 L1221.0 1369.2 L1222.4 1368.2 L1223.8 1367.2 L1225.3 1366.2 L1226.7 1365.1 L1228.1 1364.1 L1229.5 1363.1 L1230.9 1362.0 L1232.4 1360.9 L1233.8 1359.9 L1235.2 1358.8 L1236.6 1357.7 L1238.0 1356.6 L1239.5 1355.5 L1240.9 1354.4 L1242.3 1353.3 L1243.7 1352.2 L1245.1 1351.1 L1246.6 1350.0 L1248.0 1348.9 L1249.4 1347.7 L1250.8 1346.6 L1252.3 1345.5 L1253.7 1344.3 L1255.1 1343.2 L1256.5 1342.0 L1257.9 1340.9 L1259.4 1339.7 L1260.8 1338.5 L1262.2 1337.4 L1263.6 1336.2 L1265.0 1335.0 L1266.5 1333.8 L1267.9 1332.6 L1269.3 1331.4 L1270.7 1330.2 L1272.1 1329.0 L1273.6 1327.8 L1275.0 1326.6 L1276.4 1325.4 L1277.8 1324.1 L1279.2 1322.9 L1280.7 1321.6 L1282.1 1320.4 L1283.5 1319.1 L1284.9 1317.8 L1286.3 1316.5 L1287.8 1315.2 L1289.2 1313.9 L1290.6 1312.6 L1292.0 1311.2 L1293.4 1309.8 L1294.9 1308.4 L1296.3 1307.0 L1297.7 1305.6 L1299.1 1304.2 L1300.5 1302.7 L1302.0 1301.2 L1303.4 1299.7 L1304.8 1298.1 L1306.2 1296.6 L1307.6 1295.0 L1309.1 1293.4 L1310.5 1291.7 L1311.9 1290.1 L1313.3 1288.4 L1314.7 1286.7 L1316.2 1285.0 L1317.6 1283.2 L1319.0 1281.5 L1320.4 1279.7 L1321.8 1277.9 L1323.3 1276.2 L1324.7 1274.4 L1326.1 1272.6 L1327.5 1270.8 L1328.9 1269.0 L1330.4 1267.3 L1331.8 1265.5 L1333.2 1263.7 L1334.6 1261.9 L1336.0 1260.1 L1337.5 1258.3 L1338.9 1256.5 L1340.3 1254.7 L1341.7 1252.9 L1343.2 1251.1 L1344.6 1249.3 L1346.0 1247.5 L1347.4 1245.6 L1348.8 1243.8 L1350.3 1242.0 L1351.7 1240.2 L1353.1 1238.3 L1354.5 1236.5 L1355.9 1234.7 L1357.4 1232.8 L1358.8 1231.0 L1360.2 1229.1 L1361.6 1227.2 L1363.0 1225.4 L1364.5 1223.5 L1365.9 1221.6 L1367.3 1219.7 L1368.7 1217.9 L1370.1 1216.0 L1371.6 1214.1 L1373.0 1212.2 L1374.4 1210.2 L1375.8 1208.3 L1377.2 1206.4 L1378.7 1204.5 L1380.1 1202.5 L1381.5 1200.6 L1382.9 1198.6 L1384.3 1196.7 L1385.8 1194.7 L1387.2 1192.7 L1388.6 1190.7 L1390.0 1188.8 L1391.4 1186.8 L1392.9 1184.8 L1394.3 1182.7 L1395.7 1180.7 L1397.1 1178.7 L1398.5 1176.7 L1400.0 1174.6 L1401.4 1172.6 L1402.8 1170.5 L1404.2 1168.4 L1405.6 1166.3 L1407.1 1164.3 L1408.5 1162.2 L1409.9 1160.1 L1411.3 1157.9 L1412.7 1155.8 L1414.2 1153.7 L1415.6 1151.5 L1417.0 1149.4 L1418.4 1147.2 L1419.8 1145.1 L1421.3 1142.9 L1422.7 1140.7 L1424.1 1138.5 L1425.5 1136.3 L1426.9 1134.1 L1428.4 1131.9 L1429.8 1129.7 L1431.2 1127.4 L1432.6 1125.2 L1434.0 1122.9 L1435.5 1120.7 L1436.9 1118.4 L1438.3 1116.1 L1439.7 1113.8 L1441.2 1111.5 L1442.6 1109.2 L1444.0 1106.9 L1445.4 1104.5 L1446.8 1102.2 L1448.3 1099.8 L1449.7 1097.5 L1451.1 1095.1 L1452.5 1092.7 L1453.9 1090.3 L1455.4 1087.9 L1456.8 1085.5 L1458.2 1083.0 L1459.6 1080.6 L1461.0 1078.1 L1462.5 1075.6 L1463.9 1073.1 L1465.3 1070.6 L1466.7 1068.0 L1468.1 1065.5 L1469.6 1062.9 L1471.0 1060.3 L1472.4 1057.6 L1473.8 1055.0 L1475.2 1052.3 L1476.7 1049.6 L1478.1 1046.9 L1479.5 1044.2 L1480.9 1041.4 L1482.3 1038.7 L1483.8 1035.9 L1485.2 1033.2 L1486.6 1030.4 L1488.0 1027.7 L1489.4 1025.0 L1490.9 1022.3 L1492.3 1019.7 L1493.7 1017.1 L1495.1 1014.5 L1496.5 1012.0 L1498.0 1009.5 L1499.4 1007.0 L1500.8 1004.6 L1502.2 1002.3 L1503.6 1000.0 L1505.1 997.8 L1506.5 995.6 L1507.9 993.5 L1509.3 991.4 L1510.7 989.4 L1512.2 987.4 L1513.6 985.4 L1515.0 983.6 L1516.4 981.8 L1517.8 980.0 L1519.3 978.3 L1520.7 976.6 L1522.1 975.0 L1523.5 973.5 L1524.9 972.0 L1526.4 970.6 L1527.8 969.2 L1529.2 967.9 L1530.6 966.7 L1532.1 965.5 L1533.5 964.4 L1534.9 963.3 L1536.3 962.3 L1537.7 961.4 L1539.2 960.6 L1540.6 959.8 L1542.0 959.1 L1543.4 958.5 L1544.8 958.0 L1546.3 957.6 L1547.7 957.4 L1549.1 957.3 L1550.5 957.3 L1551.9 957.5 L1553.4 957.8 L1554.8 958.4 L1556.2 959.1 L1557.6 960.0 L1559.0 961.2 L1560.5 962.6 L1561.9 964.3 L1563.3 966.2 L1564.7 968.4 L1566.1 970.9 L1567.6 973.7 L1569.0 976.9 L1570.4 980.4 L1571.8 984.2 L1573.2 988.4 L1574.7 993.0 L1576.1 998.0 L1577.5 1003.4" stroke="#ef8130" stroke-width="8.2" fill="none" stroke-dasharray="31 13.5" stroke-linejoin="round"/>
<path d="M1010 969.9H1087.2" stroke="#0873b6" stroke-width="13.6"/>
<path d="M1017.1 1014.3H1048.3M1061.6 1014.3H1080.3" stroke="#ef8130" stroke-width="7.9"/>
<g font-family="Liberation Sans, Arial, Helvetica, sans-serif">
<text transform="translate(458.13,35.24) scale(0.5889,0.6618)" font-size="100" font-weight="700" fill="#231f20">a</text>
<text transform="translate(588.88,39.90) scale(0.3903,0.3932)" font-size="100" fill="#231f20">PAGE African American individuals</text>
<text transform="translate(430.84,108.00) scale(0.2820,0.2820)" font-size="100" fill="#231f20">0.0075</text>
<text transform="translate(430.84,193.43) scale(0.2820,0.2820)" font-size="100" fill="#231f20">0.0050</text>
<text transform="translate(430.84,278.86) scale(0.2820,0.2820)" font-size="100" fill="#231f20">0.0025</text>
<text transform="translate(430.84,364.29) scale(0.2820,0.2820)" font-size="100" fill="#231f20">0.0000</text>
<text transform="translate(414.48,449.72) scale(0.2820,0.2820)" font-size="100" fill="#231f20">−0.0025</text>
<text transform="translate(414.20,535.15) scale(0.2820,0.2820)" font-size="100" fill="#231f20">−0.0050</text>
<text transform="translate(414.48,620.58) scale(0.2820,0.2820)" font-size="100" fill="#231f20">−0.0075</text>
<text transform="translate(414.20,706.01) scale(0.2820,0.2820)" font-size="100" fill="#231f20">−0.0100</text>
<text transform="translate(549.53,782.80) scale(0.2820,0.2820)" font-size="100" fill="#231f20">−0.0075</text>
<text transform="translate(665.29,782.80) scale(0.2820,0.2820)" font-size="100" fill="#231f20">−0.0050</text>
<text transform="translate(781.33,782.80) scale(0.2820,0.2820)" font-size="100" fill="#231f20">−0.0025</text>
<text transform="translate(905.55,782.80) scale(0.2820,0.2820)" font-size="100" fill="#231f20">0.0000</text>
<text transform="translate(1021.45,782.80) scale(0.2820,0.2820)" font-size="100" fill="#231f20">0.0025</text>
<text transform="translate(1137.35,782.80) scale(0.2820,0.2820)" font-size="100" fill="#231f20">0.0050</text>
<text transform="translate(854.56,829.50) scale(0.3544,0.3371)" font-size="100" fill="#231f20">PC1</text>
<text transform="translate(394.90,436.73) rotate(-90) scale(0.3418,0.3414)" font-size="100" fill="#231f20">PC2</text>
<text transform="translate(647.56,668.60) scale(0.2851,0.2630)" font-size="100" fill="#231f20">Outlier based on PCs (N=160)</text>
<text transform="translate(646.41,708.00) scale(0.2859,0.2767)" font-size="100" fill="#231f20">Retained based on PCs (N=17167)</text>
<text transform="translate(64.52,893.55) scale(0.6961,0.6514)" font-size="100" font-weight="700" fill="#231f20">b</text>
<text transform="translate(295.35,900.20) scale(0.3182,0.4362)" font-size="100" fill="#231f20">E</text>
<text transform="translate(325.56,900.39) scale(0.3136,0.4145)" font-size="100" fill="#231f20">s</text>
<text transform="translate(347.76,900.20) scale(0.4442,0.4205)" font-size="100" fill="#231f20">timated</text>
<text transform="translate(506.25,900.20) scale(0.4077,0.4111)" font-size="100" fill="#231f20">r</text>
<text transform="translate(523.66,907.01) scale(0.2346,0.2855)" font-size="100" fill="#231f20">a</text>
<text transform="translate(542.97,907.00) scale(0.3067,0.2959)" font-size="100" fill="#231f20">d</text>
<text transform="translate(563.61,907.30) scale(0.2986,0.2907)" font-size="100" fill="#231f20">m</text>
<text transform="translate(593.88,907.30) scale(0.2700,0.2849)" font-size="100" fill="#231f20">i</text>
<text transform="translate(598.97,907.30) scale(0.3292,0.2887)" font-size="100" fill="#231f20">x</text>
<text transform="translate(61.57,972.39) scale(0.3752,0.4099)" font-size="100" fill="#231f20">1.0</text>
<text transform="translate(59.22,1075.09) scale(0.3954,0.4099)" font-size="100" fill="#231f20">0.8</text>
<text transform="translate(59.22,1177.79) scale(0.3954,0.4099)" font-size="100" fill="#231f20">0.6</text>
<text transform="translate(59.24,1280.49) scale(0.3895,0.4099)" font-size="100" fill="#231f20">0.4</text>
<text transform="translate(59.22,1383.19) scale(0.3954,0.4099)" font-size="100" fill="#231f20">0.2</text>
<text transform="translate(59.23,1485.89) scale(0.3924,0.4099)" font-size="100" fill="#231f20">0.0</text>
<text transform="translate(159.09,1568.32) scale(0.4015,0.3789)" font-size="100" fill="#231f20">0.0</text>
<text transform="translate(433.32,1568.32) scale(0.3962,0.3789)" font-size="100" fill="#231f20">0.5</text>
<text transform="translate(707.19,1568.32) scale(0.4016,0.3789)" font-size="100" fill="#231f20">1.0</text>
<text transform="translate(173.90,1627.50) scale(0.4115,0.4096)" font-size="100" fill="#231f20">All PAGE individuals (default)</text>
<text transform="translate(33.30,1487.74) rotate(-90) scale(0.4085,0.4342)" font-size="100" fill="#231f20">Subset of PAGE individuals</text>
<text transform="translate(914.22,893.85) scale(0.6694,0.6473)" font-size="100" font-weight="700" fill="#231f20">c</text>
<text transform="translate(1014.09,903.10) scale(0.4266,0.4260)" font-size="100" fill="#231f20">Meta-analyzed log-likelihood</text>
<text transform="translate(937.08,969.50) scale(0.3350,0.3350)" font-size="100" fill="#231f20">0</text>
<text transform="translate(898.89,1045.10) scale(0.3350,0.3350)" font-size="100" fill="#231f20">−25</text>
<text transform="translate(898.89,1120.70) scale(0.3350,0.3350)" font-size="100" fill="#231f20">−50</text>
<text transform="translate(898.89,1196.30) scale(0.3350,0.3350)" font-size="100" fill="#231f20">−75</text>
<text transform="translate(880.13,1271.90) scale(0.3350,0.3350)" font-size="100" fill="#231f20">−100</text>
<text transform="translate(880.47,1347.50) scale(0.3350,0.3350)" font-size="100" fill="#231f20">−125</text>
<text transform="translate(880.13,1423.10) scale(0.3350,0.3350)" font-size="100" fill="#231f20">−150</text>
<text transform="translate(880.47,1498.70) scale(0.3350,0.3350)" font-size="100" fill="#231f20">−175</text>
<text transform="translate(991.65,1569.30) scale(0.3905,0.4145)" font-size="100" fill="#231f20">−1</text>
<text transform="translate(1284.38,1568.90) scale(0.4062,0.4028)" font-size="100" fill="#231f20">0</text>
<text transform="translate(1566.54,1569.30) scale(0.3091,0.4145)" font-size="100" fill="#231f20">1</text>
<text transform="translate(1237.09,1627.00) scale(0.4346,0.4130)" font-size="100" fill="#231f20">r</text>
<text transform="translate(1254.97,1633.92) scale(0.2327,0.2818)" font-size="100" fill="#231f20">a</text>
<text transform="translate(1274.44,1633.90) scale(0.3156,0.3000)" font-size="100" fill="#231f20">d</text>
<text transform="translate(1294.16,1634.20) scale(0.3070,0.2870)" font-size="100" fill="#231f20">m</text>
<text transform="translate(1324.32,1634.20) scale(0.3300,0.2904)" font-size="100" fill="#231f20">i</text>
<text transform="translate(1332.92,1634.20) scale(0.2792,0.2868)" font-size="100" fill="#231f20">x</text>
<text transform="translate(852.00,1433.11) rotate(-90) scale(0.4267,0.4315)" font-size="100" fill="#231f20">Relative log-likelihood</text>
<text transform="translate(1105.90,980.80) scale(0.2889,0.2767)" font-size="100" fill="#231f20">All PAGE individuals (default)</text>
<text transform="translate(1104.47,1025.30) scale(0.2862,0.2890)" font-size="100" fill="#231f20">Subset of PAGE individuals</text>
</g>
<g font-family="Liberation Sans, Arial, Helvetica, sans-serif">
<text transform="translate(1059.88,103.20) scale(0.4278,0.4429)" font-size="100" fill="#111" stroke="#fff" stroke-width="16.9" stroke-linejoin="round" paint-order="stroke">EUR</text>
<text transform="translate(532.50,464.50) scale(0.4195,0.4014)" font-size="100" fill="#111" stroke="#fff" stroke-width="18.7" stroke-linejoin="round" paint-order="stroke">AFR</text>
</g>
</svg></body></html>
